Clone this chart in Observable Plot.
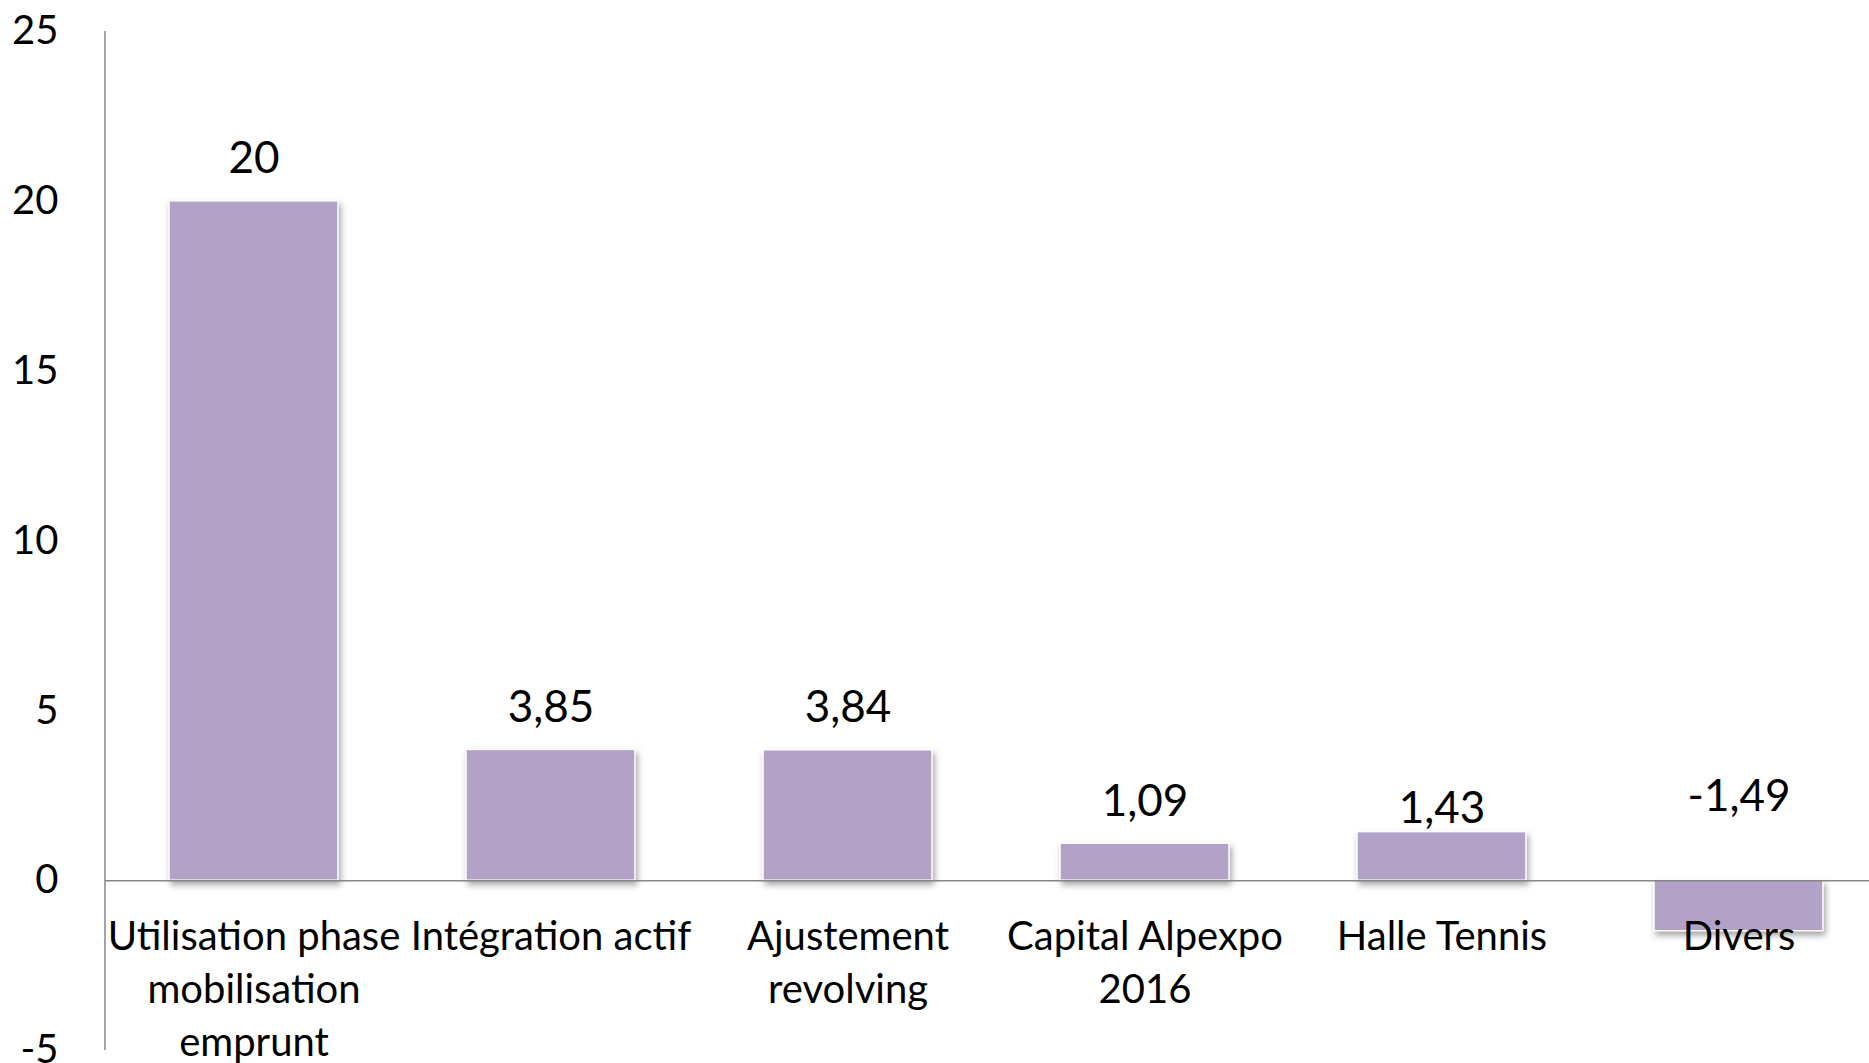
<!DOCTYPE html>
<html>
<head>
<meta charset="utf-8">
<script src="https://cdn.jsdelivr.net/npm/d3@7"></script>
<script src="https://cdn.jsdelivr.net/npm/@observablehq/plot@0.6"></script>
<style>
  html, body { margin: 0; padding: 0; background: #fff; }
  #chart svg { display: block; }
  .bars rect { filter: drop-shadow(2px 4px 3px rgba(0,0,0,0.35)); }
</style>
</head>
<body>
<div id="chart"></div>
<script>
// Data
const categories = [
  "Utilisation phase\nmobilisation\nemprunt",
  "Intégration actif",
  "Ajustement\nrevolving",
  "Capital Alpexpo\n2016",
  "Halle Tennis",
  "Divers"
];
const values = [20, 3.85, 3.84, 1.09, 1.43, -1.49];
const valueLabels = ["20", "3,85", "3,84", "1,09", "1,43", "-1,49"];
const yTicks = [-5, 0, 5, 10, 15, 20, 25];

const data = categories.map((c, i) => ({cat: c, value: values[i], label: valueLabels[i]}));

// label offsets (px) mimicking the original placement
const labelDy = [-42, -42, -42, -42, -23, -84];

const W = 1869, H = 1063;
const font = "Lato, 'Open Sans', sans-serif";
const axisColor = "#868686";

const yAxisLine = (index, scales, values, dimensions) => {
  const g = d3.create("svg:g");
  g.append("line")
    .attr("x1", dimensions.marginLeft).attr("x2", dimensions.marginLeft)
    .attr("y1", scales.y(25)).attr("y2", scales.y(-5))
    .attr("stroke", axisColor).attr("stroke-width", 1.5);
  return g.node();
};

const chart = Plot.plot({
  width: W,
  height: H,
  marginLeft: 105,
  marginRight: 0,
  marginTop: 31,
  marginBottom: 13,
  style: {fontFamily: font, background: "#fff", overflow: "visible"},
  x: {domain: categories, range: [105, 105 + 6 * 297], paddingInner: 0.43, paddingOuter: 0.215, axis: null, label: null},
  y: {domain: [-5, 25], axis: null, label: null},
  marks: [
    Plot.axisY(yTicks, {
      tickSize: 0, tickPadding: 47, fontSize: 40, fill: "#000", textAnchor: "end",
      label: null, tickFormat: d => `${d}`
    }),
    Plot.barY(data, {x: "cat", y: "value", fill: "#b3a2c7", stroke: "#ffffff", strokeWidth: 1.5, className: "bars"}),
    Plot.ruleY([0], {stroke: axisColor, strokeWidth: 1.5}),
    yAxisLine,
    ...data.map((d, i) => Plot.text([d], {
      x: "cat", y: v => Math.max(v.value, 0), text: "label",
      dy: labelDy[i], fontSize: 44, fill: "#000"
    })),
    Plot.text(data, {
      x: "cat", y: () => 0, text: "cat", lineAnchor: "top", lineHeight: 1.32,
      dy: 32, fontSize: 40, fill: "#000"
    })
  ]
});

document.getElementById("chart").appendChild(chart);
</script>
</body>
</html>
